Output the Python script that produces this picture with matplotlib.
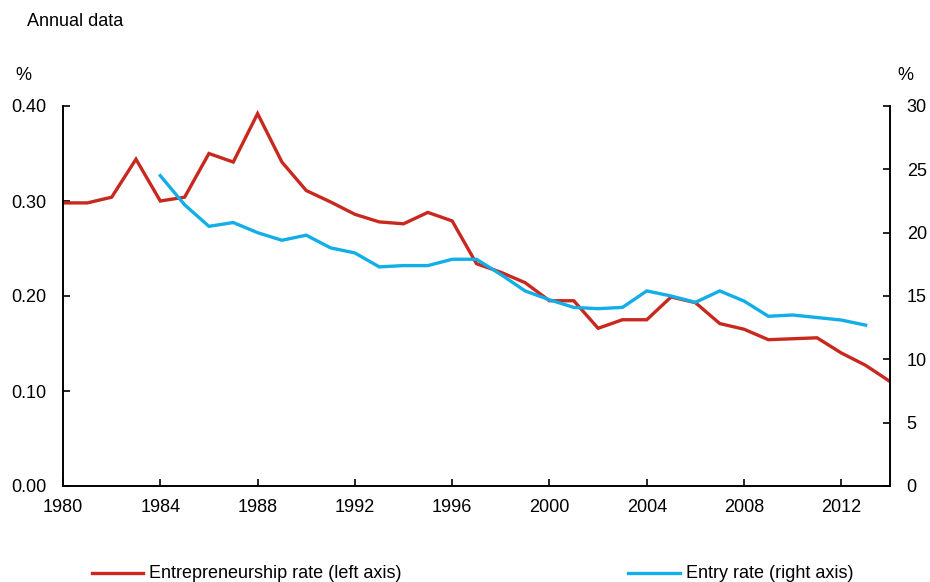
import numpy as np
import matplotlib
matplotlib.use('Agg')
import matplotlib.pyplot as plt
from matplotlib.lines import Line2D

plt.rcParams['font.family'] = ['Liberation Sans', 'DejaVu Sans']

# entrepreneurship rate, 1980-2014 (left axis, %)
ent_years = list(range(1980, 2015))
ent_rate = [0.298, 0.298, 0.304, 0.344, 0.300, 0.304, 0.350, 0.341, 0.392, 0.341,
            0.311, 0.299, 0.286, 0.278, 0.276, 0.288, 0.279, 0.234, 0.225, 0.214,
            0.195, 0.195, 0.166, 0.175, 0.175, 0.199, 0.193, 0.171, 0.165, 0.154,
            0.155, 0.156, 0.140, 0.127, 0.110]

# entry rate, 1984-2013 (right axis, %)
entry_years = list(range(1984, 2014))
entry_rate = [24.5, 22.2, 20.5, 20.8, 20.0, 19.4, 19.8, 18.8, 18.4, 17.3,
              17.4, 17.4, 17.9, 17.9, 16.7, 15.4, 14.7, 14.1, 14.0, 14.1,
              15.4, 15.0, 14.5, 15.4, 14.6, 13.4, 13.5, 13.3, 13.1, 12.7]

x_ticks = list(range(1980, 2014, 4))
left_ticks = [0.0, 0.1, 0.2, 0.3, 0.4]
right_ticks = [0, 5, 10, 15, 20, 25, 30]

RED = '#C8281E'
BLUE = '#12AEE8'
FS = 13

fig = plt.figure(figsize=(9.3, 5.82), dpi=100)
ax = fig.add_axes([63 / 930, 1 - 486 / 582, (890 - 63) / 930, (486 - 106) / 582])
ax2 = ax.twinx()

ax.plot(ent_years, ent_rate, color=RED, lw=2.4, solid_joinstyle='miter')
ax2.plot(entry_years, entry_rate, color=BLUE, lw=2.4, solid_joinstyle='miter')

ax.set_xlim(1980, 2014)
ax.set_ylim(0, 0.40)
ax2.set_ylim(0, 30)
ax.set_xticks(x_ticks)
ax.set_yticks(left_ticks)
ax.set_yticklabels([f'{v:.2f}' for v in left_ticks])
ax2.set_yticks(right_ticks)

for a in (ax, ax2):
    a.spines['top'].set_visible(False)
    for s in a.spines.values():
        s.set_linewidth(1.2)
    a.tick_params(direction='in', length=5, width=1.2, labelsize=FS, pad=6)
ax.tick_params(axis='y', pad=12)
ax2.tick_params(axis='y', pad=12)
ax.tick_params(axis='x', pad=9)

fig.text(27 / 930, 1 - 22 / 582, 'Annual data', fontsize=FS, va='center', ha='left')
fig.text(15 / 930, 1 - 75 / 582, '%', fontsize=FS, va='center', ha='left')
fig.text(897 / 930, 1 - 75 / 582, '%', fontsize=FS, va='center', ha='left')

# legend drawn below the plot
ly = 1 - 573 / 582
fig.add_artist(Line2D([92 / 930, 143 / 930], [ly, ly], color=RED, lw=2.4))
fig.text(149 / 930, ly, 'Entrepreneurship rate (left axis)', fontsize=FS, va='center', ha='left')
fig.add_artist(Line2D([628 / 930, 680 / 930], [ly, ly], color=BLUE, lw=2.4))
fig.text(686 / 930, ly, 'Entry rate (right axis)', fontsize=FS, va='center', ha='left')

fig.savefig('out.png', dpi=100, facecolor='white')
